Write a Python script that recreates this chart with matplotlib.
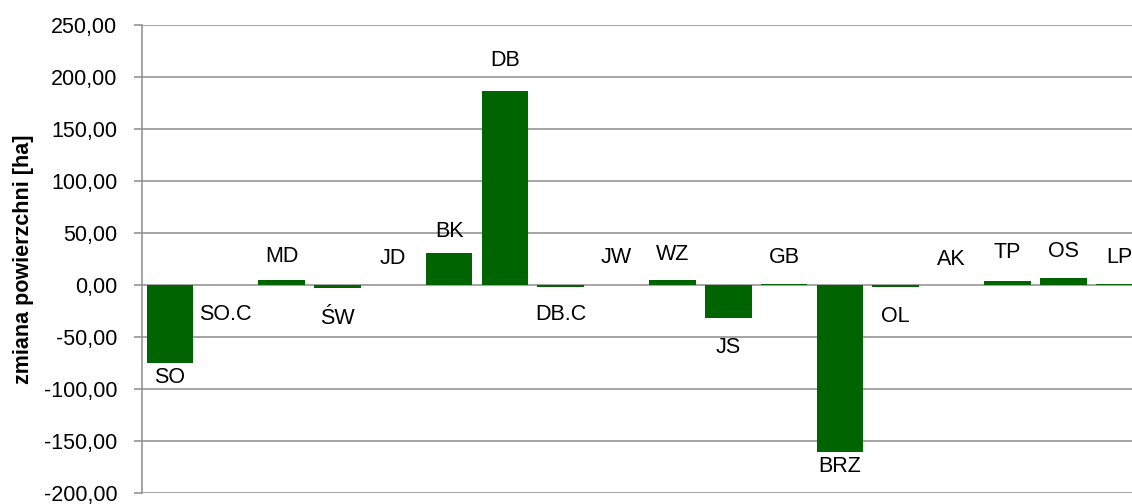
import matplotlib.pyplot as plt
from matplotlib.ticker import FuncFormatter

plt.rcParams["font.family"] = ["Liberation Sans", "DejaVu Sans"]
plt.rcParams["axes.unicode_minus"] = False

# ===== dane =====
categories = ["SO", "SO.C", "MD", "ŚW", "JD", "BK", "DB", "DB.C", "JW",
              "WZ", "JS", "GB", "BRZ", "OL", "AK", "TP", "OS", "LP"]
values = [-74.6, -0.3, 4.5, -2.9, 0.5, 31.2, 186.2, -1.3, 0.5,
          4.5, -32.0, 1.6, -160.6, -1.3, 0.5, 3.9, 7.1, 1.3]

# przesunięcie etykiet od końca słupka (piksele)
label_offsets = [15, 29, 24, 30, 26, 21, 31, 28, 27,
                 26, 29, 26, 14, 30, 25, 29, 26, 26]

bar_color = "#006400"
grid_color = "#8c8c8c"

fig = plt.figure(figsize=(11.32, 5.04), dpi=100)
ax = fig.add_axes([142 / 1132, 1 - 493.3 / 504, 1 - 142 / 1132, (493.3 - 25) / 504])

x = list(range(len(categories)))
ax.bar(x, values, width=0.836, color=bar_color, zorder=2)

for xi, v, name, off in zip(x, values, categories, label_offsets):
    dy = off if v >= 0 else -off
    ax.annotate(name, (xi, v), xytext=(0, dy), textcoords="offset pixels",
                ha="center", va="center", fontsize=15.5, color="black")

ax.set_xlim(-0.5, 17.23)
ax.set_ylim(-200, 250)
ax.set_yticks(range(-200, 251, 50))
ax.yaxis.set_major_formatter(FuncFormatter(lambda v, p: f"{v:.2f}".replace(".", ",")))
ax.set_xticks([])

ax.grid(axis="y", color=grid_color, linewidth=1.1, zorder=0)
ax.set_axisbelow(True)
for s in ["top", "right", "bottom"]:
    ax.spines[s].set_visible(False)
ax.spines["left"].set_color(grid_color)
ax.spines["left"].set_linewidth(1.1)
ax.tick_params(axis="y", direction="out", length=5.8, width=1.1, color=grid_color,
               pad=12, labelsize=15.5, labelcolor="black")

ax.set_ylabel("zmiana powierzchni [ha]", fontsize=15.5, fontweight="bold")
ax.yaxis.set_label_coords(-108 / 990, 0.5)

fig.savefig("out.png", dpi=100)
